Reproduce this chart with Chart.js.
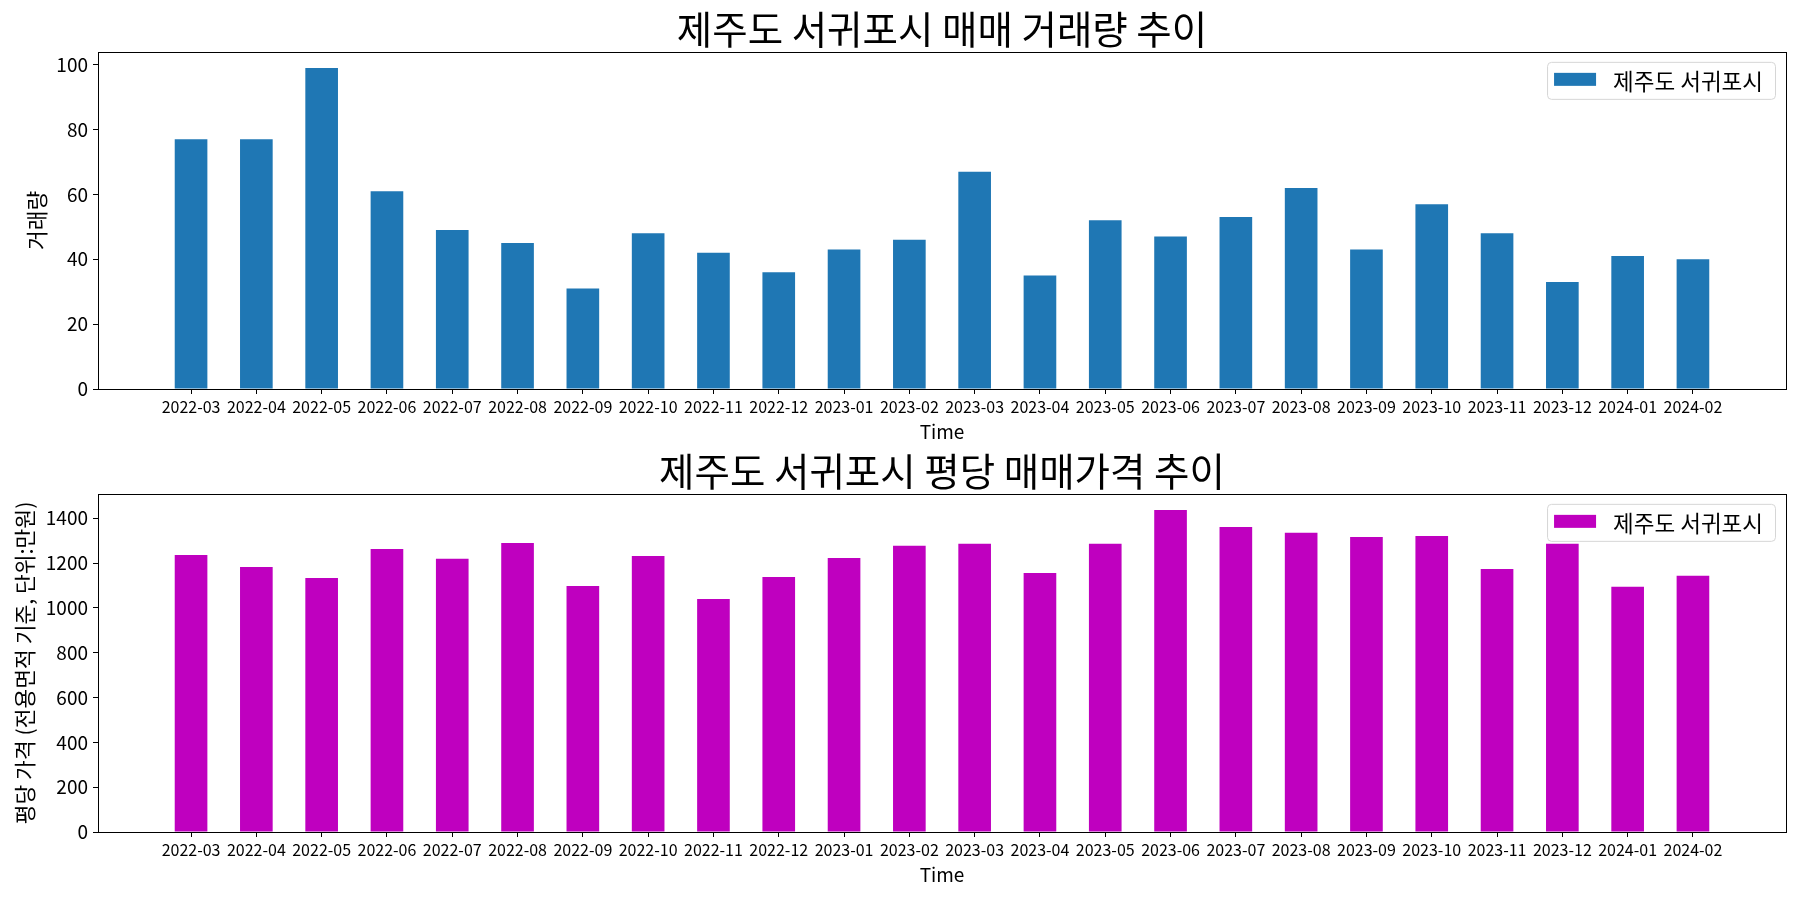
<!DOCTYPE html>
<html>
<head>
<meta charset="utf-8">
<script src="https://cdn.jsdelivr.net/npm/chart.js@4.4.1/dist/chart.umd.min.js"></script>
<style>
  html, body { margin: 0; padding: 0; background: #fff; }
  .panel { width: 1800px; height: 450px; }
</style>
</head>
<body>
<div class="panel"><canvas id="volume" width="1800" height="450"></canvas></div>
<div class="panel"><canvas id="price" width="1800" height="450"></canvas></div>
<script>
const months = [
  "2022-03", "2022-04", "2022-05", "2022-06", "2022-07", "2022-08",
  "2022-09", "2022-10", "2022-11", "2022-12", "2023-01", "2023-02",
  "2023-03", "2023-04", "2023-05", "2023-06", "2023-07", "2023-08",
  "2023-09", "2023-10", "2023-11", "2023-12", "2024-01", "2024-02",
];
const volume = [77, 77, 99, 61, 49, 45, 31, 48, 42, 36, 43, 46, 67, 35, 52, 47, 53, 62, 43, 57, 48, 33, 41, 40];
const price = [1236, 1183, 1134, 1263, 1219, 1290, 1098, 1232, 1040, 1138, 1223, 1277, 1286, 1156, 1286, 1437, 1361, 1335, 1317, 1321, 1174, 1286, 1094, 1143];
const seriesName = "제주도 서귀포시";

const FONT = '"Noto Sans CJK KR", "Noto Sans", sans-serif';

// full box around the plot like matplotlib spines
const frame = {
  id: "frame",
  afterDatasetsDraw(chart) {
    const { ctx, chartArea: a } = chart;
    ctx.save();
    ctx.strokeStyle = "#000";
    ctx.lineWidth = 1;
    ctx.strokeRect(Math.round(a.left) + 0.5, Math.round(a.top) + 0.5,
      Math.round(a.right - a.left), Math.round(a.bottom - a.top));
    ctx.restore();
  },
};

// legend drawn inside the plot, top right
const boxLegend = {
  id: "boxLegend",
  afterDraw(chart) {
    const { ctx, chartArea: a } = chart;
    const ds = chart.data.datasets[0];
    ctx.save();
    ctx.font = "22.5px " + FONT;
    const tw = ctx.measureText(ds.label).width;
    const w = tw + 78, h = 37;
    const x = a.right - 11 - w, y = a.top + 10;
    ctx.beginPath();
    ctx.roundRect(x + 0.5, y + 0.5, w, h, 4);
    ctx.fillStyle = "rgba(255,255,255,0.8)";
    ctx.fill();
    ctx.strokeStyle = "#d6d6d6";
    ctx.lineWidth = 1;
    ctx.stroke();
    ctx.fillStyle = ds.backgroundColor;
    ctx.fillRect(x + 7, y + 11, 42, 13);
    ctx.fillStyle = "#000";
    ctx.textBaseline = "middle";
    ctx.fillText(ds.label, x + 66, y + h / 2 + 1);
    ctx.restore();
  },
};

function makeChart(id, title, values, color, yTitle, yMax, yStep, yTitlePad, topPad, bottomPad) {
  const ctx = document.getElementById(id).getContext("2d");
  return new Chart(ctx, {
    type: "bar",
    data: {
      datasets: [
        {
          label: seriesName,
          data: values.map((v, i) => ({ x: i, y: v })),
          backgroundColor: color,
          borderWidth: 0,
          barPercentage: 0.5,
          categoryPercentage: 1,
        },
      ],
    },
    options: {
      responsive: false,
      animation: false,
      layout: { padding: { left: 0, right: 14, top: topPad, bottom: bottomPad } },
      plugins: {
        legend: { display: false },
        tooltip: { enabled: false },
        title: {
          display: true,
          text: title,
          fullSize: false,
          color: "#000",
          font: { family: FONT, size: 38.5, weight: "normal", lineHeight: 1.1 },
          padding: { top: 0, bottom: 1.5 },
        },
      },
      scales: {
        x: {
          type: "linear",
          offset: false,
          min: -1.425,
          max: 24.425,
          afterBuildTicks: (axis) => {
            axis.ticks = months.map((m, i) => ({ value: i }));
          },
          afterFit: (axis) => { axis.height = 61; },
          ticks: {
            autoSkip: false,
            maxRotation: 0,
            padding: 3,
            color: "#000",
            font: { family: FONT, size: 16 },
            callback: (v) => months[v],
          },
          grid: { offset: false, drawOnChartArea: false, tickLength: 5, color: "#000" },
          border: { display: false },
          title: {
            display: true,
            text: "Time",
            color: "#000",
            font: { family: FONT, size: 19 },
            padding: { top: 0, bottom: 7 },
          },
        },
        y: {
          min: 0,
          max: yMax,
          afterFit: (axis) => { axis.width = 98; },
          ticks: {
            stepSize: yStep,
            includeBounds: false,
            padding: 5,
            color: "#000",
            font: { family: FONT, size: 19 },
            callback: (v) => String(v),
          },
          grid: { drawOnChartArea: false, tickLength: 5, color: "#000" },
          border: { display: false },
          title: {
            display: true,
            text: yTitle,
            color: "#000",
            font: { family: FONT, size: 21.5 },
            padding: { top: yTitlePad, bottom: 0 },
          },
        },
      },
    },
    plugins: [frame, boxLegend],
  });
}

makeChart("volume", "제주도 서귀포시 매매 거래량 추이", volume, "#1f77b4", "거래량", 103.95, 20, 24, 8, 0);
makeChart("price", "제주도 서귀포시 평당 매매가격 추이", price, "#bf00bf", "평당 가격 (전용면적 기준, 단위:만원)", 1509, 200, 12, 0, 7);
</script>
</body>
</html>
